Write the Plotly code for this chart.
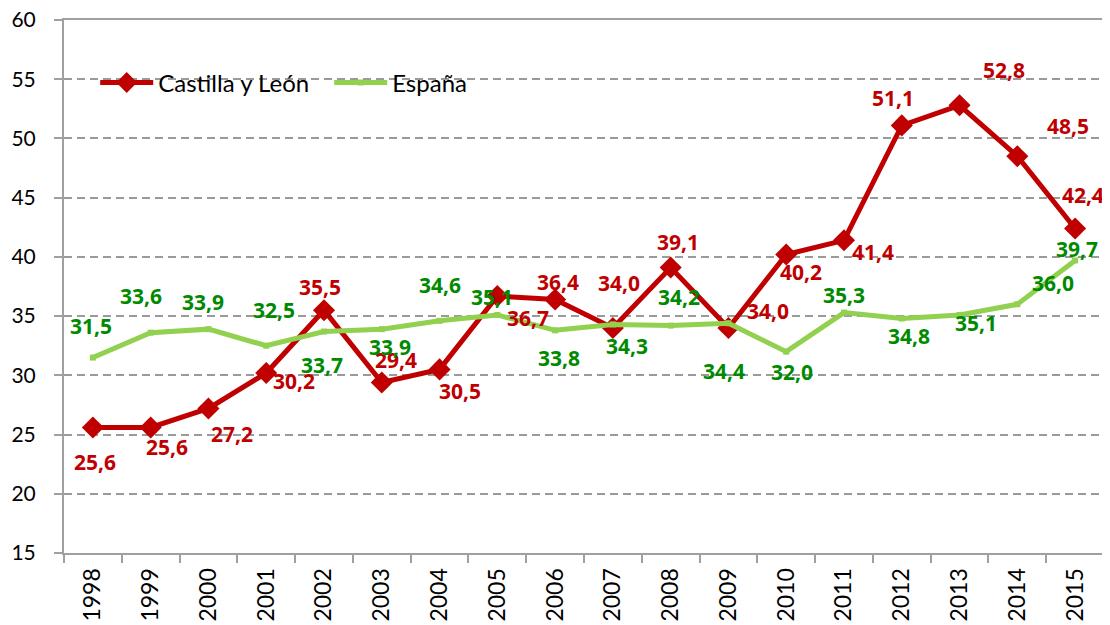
import plotly.graph_objects as go

years = ["1998", "1999", "2000", "2001", "2002", "2003", "2004", "2005", "2006",
         "2007", "2008", "2009", "2010", "2011", "2012", "2013", "2014", "2015"]
cyl = [25.6, 25.6, 27.2, 30.2, 35.5, 29.4, 30.5, 36.7, 36.4,
       34.0, 39.1, 34.0, 40.2, 41.4, 51.1, 52.8, 48.5, 42.4]
esp = [31.5, 33.6, 33.9, 32.5, 33.7, 33.9, 34.6, 35.1, 33.8,
       34.3, 34.2, 34.4, 32.0, 35.3, 34.8, 35.1, 36.0, 39.7]

# label offsets in pixels (dx right, dy down) - styling only
cyl_off = [(2, 35), (16, 20), (24, 25), (28, 8), (-4, -23), (14, -22), (20, 22), (31, 22), (3, -18),
           (6, -45), (7, -26), (40, -17), (15, 17), (29, 12), (-9, -27), (44, -35), (51, -30), (8, -33)]
esp_off = [(-2, -32), (-10, -37), (-5, -27), (8, -36), (-2, 33), (8, 18), (0, -36), (-5, -18), (4, 28),
           (14, 22), (8, -29), (-4, 48), (6, 20), (0, -18), (7, 18), (16, 8), (36, -21), (2, -11)]

RED = "#C00000"
LGREEN = "#92D050"
DGREEN = "#008A00"
FONT = "Lato"
LFONT = "Open Sans"

fig = go.Figure()
fig.add_trace(go.Scatter(
    x=years, y=cyl, name="Castilla y León", mode="lines+markers",
    line=dict(color=RED, width=5),
    marker=dict(symbol="diamond", size=17, color=RED),
))
fig.add_trace(go.Scatter(
    x=years, y=esp, name="España", mode="lines+markers",
    line=dict(color=LGREEN, width=5),
    marker=dict(symbol="square", size=6, color=LGREEN),
))

def fmt(v):
    return f"{v:.1f}".replace(".", ",")

ann = []
for i, (v, (dx, dy)) in enumerate(zip(cyl, cyl_off)):
    ann.append(dict(x=i, y=v, xref="x", yref="y", text=fmt(v), showarrow=False,
                    xshift=dx, yshift=-dy,
                    font=dict(family=LFONT, size=21, color=RED, weight="bold")))
for i, (v, (dx, dy)) in enumerate(zip(esp, esp_off)):
    ann.append(dict(x=i, y=v, xref="x", yref="y", text=fmt(v), showarrow=False,
                    xshift=dx, yshift=-dy,
                    font=dict(family=LFONT, size=21, color=DGREEN, weight="bold")))

fig.update_layout(
    width=1102, height=617,
    margin=dict(l=56, r=6, t=12, b=72, autoexpand=False),
    paper_bgcolor="white", plot_bgcolor="white",
    font=dict(family=FONT, color="black"),
    annotations=ann,
    showlegend=True,
    legend=dict(orientation="h", x=0.030, y=0.882, xanchor="left", yanchor="middle",
                bgcolor="rgba(0,0,0,0)", font=dict(size=24, family=FONT, color="black"),
                itemwidth=53, entrywidth=166, tracegroupgap=0),
    xaxis=dict(type="category", showgrid=False, showline=True, linecolor="#A0A0A0",
               linewidth=2, mirror=True, ticks="outside", tickson="boundaries",
               ticklen=8, tickcolor="#A0A0A0", tickwidth=2, tickangle=-90,
               tickfont=dict(size=23, family=FONT, color="black"), ticklabelstandoff=4,
               ticklabeloverflow="allow", automargin=False,
               range=[-0.5, 17.5], fixedrange=True),
    yaxis=dict(range=[15, 60], dtick=5, tick0=15, showgrid=True, gridcolor="#9A9A9A",
               gridwidth=1.5, griddash="8px,5px", showline=True, linecolor="#A0A0A0",
               linewidth=2, mirror=True, ticks="outside", ticklen=8, tickcolor="#A0A0A0",
               tickwidth=2, tickfont=dict(size=21, family=FONT, color="black"),
               ticklabelstandoff=14, ticklabeloverflow="allow", automargin=False,
               zeroline=False, fixedrange=True),
)

fig.write_html("out.html")
